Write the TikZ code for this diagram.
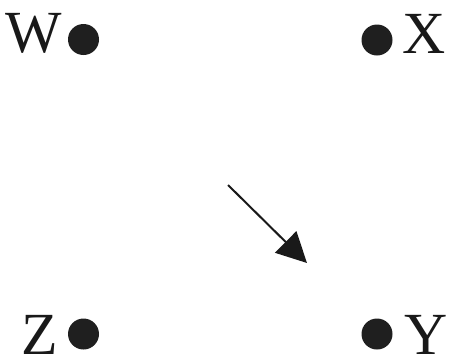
\documentclass[tikz,border=0pt]{standalone}
\usepackage{fontspec}
\setmainfont{Liberation Serif}
\usetikzlibrary{arrows.meta,positioning}
\tikzset{
  pt/.style={
    circle,
    fill=black!88,
    inner sep=0pt,
    minimum size=31bp
  },
  lbl/.style={inner sep=0pt, text depth=0pt, font=\fontsize{60}{60}\selectfont, text=black!90},
  edge/.style={-{Triangle[length=30bp, width=30bp]}, line width=2bp, black!90}
}

\begin{document}
\begin{tikzpicture}[x=1bp, y=-1bp]
  \useasboundingbox (0,0) rectangle (449,363);
  \node[pt] (w) at (83.5,39.5) {};
  \node[pt] (x) at (377,40) {};
  \node[pt] (z) at (83.5,334) {};
  \node[pt] (y) at (377,334) {};
  \node[lbl, anchor=base east] (wl) at (62,52) {W};
  \node[lbl, anchor=base west] (xl) at (402,53) {X};
  \node[lbl, anchor=base east] (zl) at (58.5,354) {Z};
  \node[lbl, anchor=base west] (yl) at (404,354) {Y};
  \coordinate (a0) at (228,185);
  \coordinate (a1) at (307,263);
  \draw[edge] (a0) -- (a1);
\end{tikzpicture}
\end{document}
